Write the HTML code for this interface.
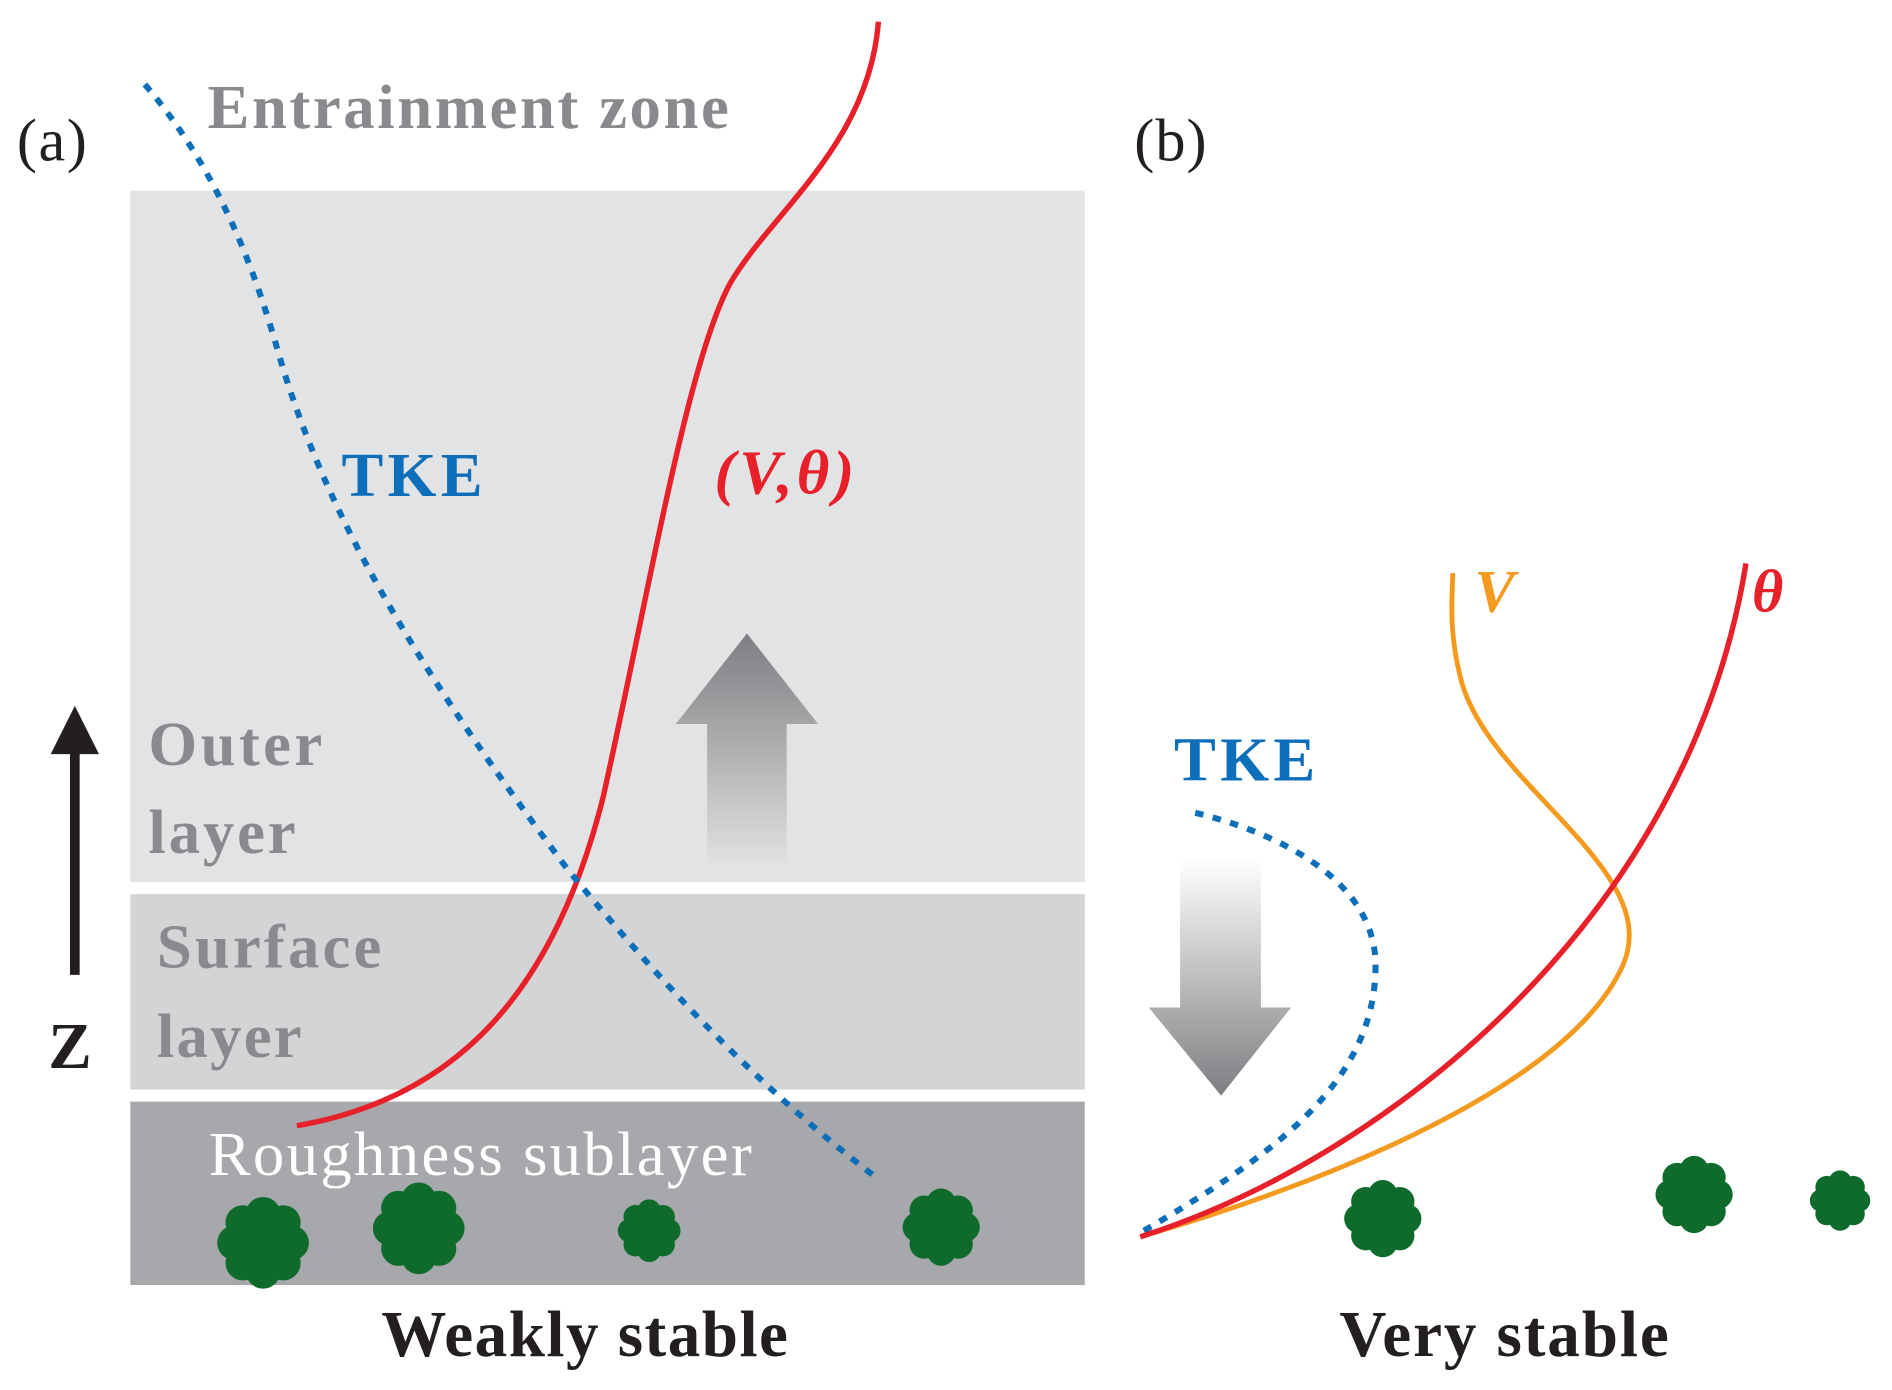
<!DOCTYPE html>
<html><head><meta charset="utf-8"><style>html,body{margin:0;padding:0;background:#fff}svg{display:block}</style></head>
<body>
<svg width="1892" height="1390" viewBox="0 0 1568 1152" xmlns="http://www.w3.org/2000/svg" font-family="Liberation Serif, serif">
<defs>
<linearGradient id="gu" x1="0" y1="0" x2="0" y2="1"><stop offset="0" stop-color="#7d7e81"/><stop offset="1" stop-color="#7d7e81" stop-opacity="0"/></linearGradient>
<linearGradient id="gd" x1="0" y1="0" x2="0" y2="1"><stop offset="0" stop-color="#fff"/><stop offset="1" stop-color="#7d7e81"/></linearGradient>
<g id="tree"><circle r="0.62" cx="0" cy="0"/><circle r="0.38" cx="0" cy="-0.62"/><circle r="0.38" cx="0.44" cy="-0.44"/><circle r="0.38" cx="0.62" cy="0"/><circle r="0.38" cx="0.44" cy="0.44"/><circle r="0.38" cx="0" cy="0.62"/><circle r="0.38" cx="-0.44" cy="0.44"/><circle r="0.38" cx="-0.62" cy="0"/><circle r="0.38" cx="-0.44" cy="-0.44"/></g>
</defs>
<rect x="108" y="158" width="791" height="573" fill="#e2e3e4"/>
<rect x="108" y="741" width="791" height="162" fill="#d3d4d6"/>
<rect x="108" y="913" width="791" height="152" fill="#a7a8ab"/>
<g fill="#0f6b2b">
<use href="#tree" transform="translate(218,1030) scale(38)"/>
<use href="#tree" transform="translate(347,1018) scale(38)"/>
<use href="#tree" transform="translate(538,1020) scale(26)"/>
<use href="#tree" transform="translate(780,1017) scale(32)"/>
<use href="#tree" transform="translate(1146,1010) scale(32)"/>
<use href="#tree" transform="translate(1404,990) scale(32)"/>
<use href="#tree" transform="translate(1525,995) scale(25)"/>
</g>
<path d="M586,720 V600 H560 L619,525 L678,600 H652 V720 Z" fill="url(#gu)"/>
<path d="M978,712 V835 H952 L1012,908 L1070,835 H1045 V712 Z" fill="url(#gd)"/>
<line x1="62" y1="808" x2="62" y2="615" stroke="#231f20" stroke-width="8"/>
<path d="M42,625 L62,585 L82,625 Z" fill="#231f20"/>
<text x="40" y="885" font-size="54" font-weight="bold" fill="#231f20">Z</text>
<path d="M246,933 C380,910 460,820 500,660 C540,480 570,300 605,235 C640,175 720,120 728,18" fill="none" stroke="#e8202a" stroke-width="4.5"/>
<path d="M120,70 C180,140 210,220 230,290 C270,430 350,560 470,720 C560,830 640,910 725,975" fill="none" stroke="#0d6fba" stroke-width="5" stroke-dasharray="7,8"/>
<path d="M948,1020 C1050,960 1140,900 1140,800 C1140,730 1060,690 988,673" fill="none" stroke="#0d6fba" stroke-width="5" stroke-dasharray="7,8"/>
<path d="M945,1025 C1100,980 1300,900 1345,800 C1380,720 1230,650 1210,560 C1200,520 1204,490 1204,475" fill="none" stroke="#f39a1f" stroke-width="4"/>
<path d="M945,1025 C1150,960 1400,760 1447,467" fill="none" stroke="#e8202a" stroke-width="4.5"/>
<text x="14" y="133" font-size="50" fill="#231f20" textLength="58">(a)</text>
<text x="940" y="133" font-size="50" fill="#231f20" textLength="60">(b)</text>
<text x="172" y="106" font-size="52" font-weight="bold" fill="#898a8d" textLength="432">Entrainment zone</text>
<text x="283" y="411" font-size="52" font-weight="bold" fill="#0d6fba" textLength="117">TKE</text>
<text x="592" y="409" font-size="52" font-weight="bold" font-style="italic" fill="#e8202a" textLength="116">(V,θ)</text>
<text x="123" y="634" font-size="52" font-weight="bold" fill="#898a8d" textLength="144">Outer</text>
<text x="123" y="707" font-size="52" font-weight="bold" fill="#898a8d" textLength="122">layer</text>
<text x="130" y="802" font-size="52" font-weight="bold" fill="#898a8d" textLength="186">Surface</text>
<text x="130" y="876" font-size="52" font-weight="bold" fill="#898a8d" textLength="120">layer</text>
<text x="173" y="974" font-size="52" fill="#fff" textLength="450">Roughness sublayer</text>
<text x="973" y="647" font-size="52" font-weight="bold" fill="#0d6fba" textLength="117">TKE</text>
<text x="1222" y="507" font-size="50" font-weight="bold" font-style="italic" fill="#f39a1f">V</text>
<text x="1452" y="507" font-size="50" font-weight="bold" font-style="italic" fill="#e8202a">θ</text>
<text x="316" y="1124" font-size="54" font-weight="bold" fill="#231f20" textLength="337">Weakly stable</text>
<text x="1110" y="1124" font-size="54" font-weight="bold" fill="#231f20" textLength="273">Very stable</text>
</svg>
</body></html>
